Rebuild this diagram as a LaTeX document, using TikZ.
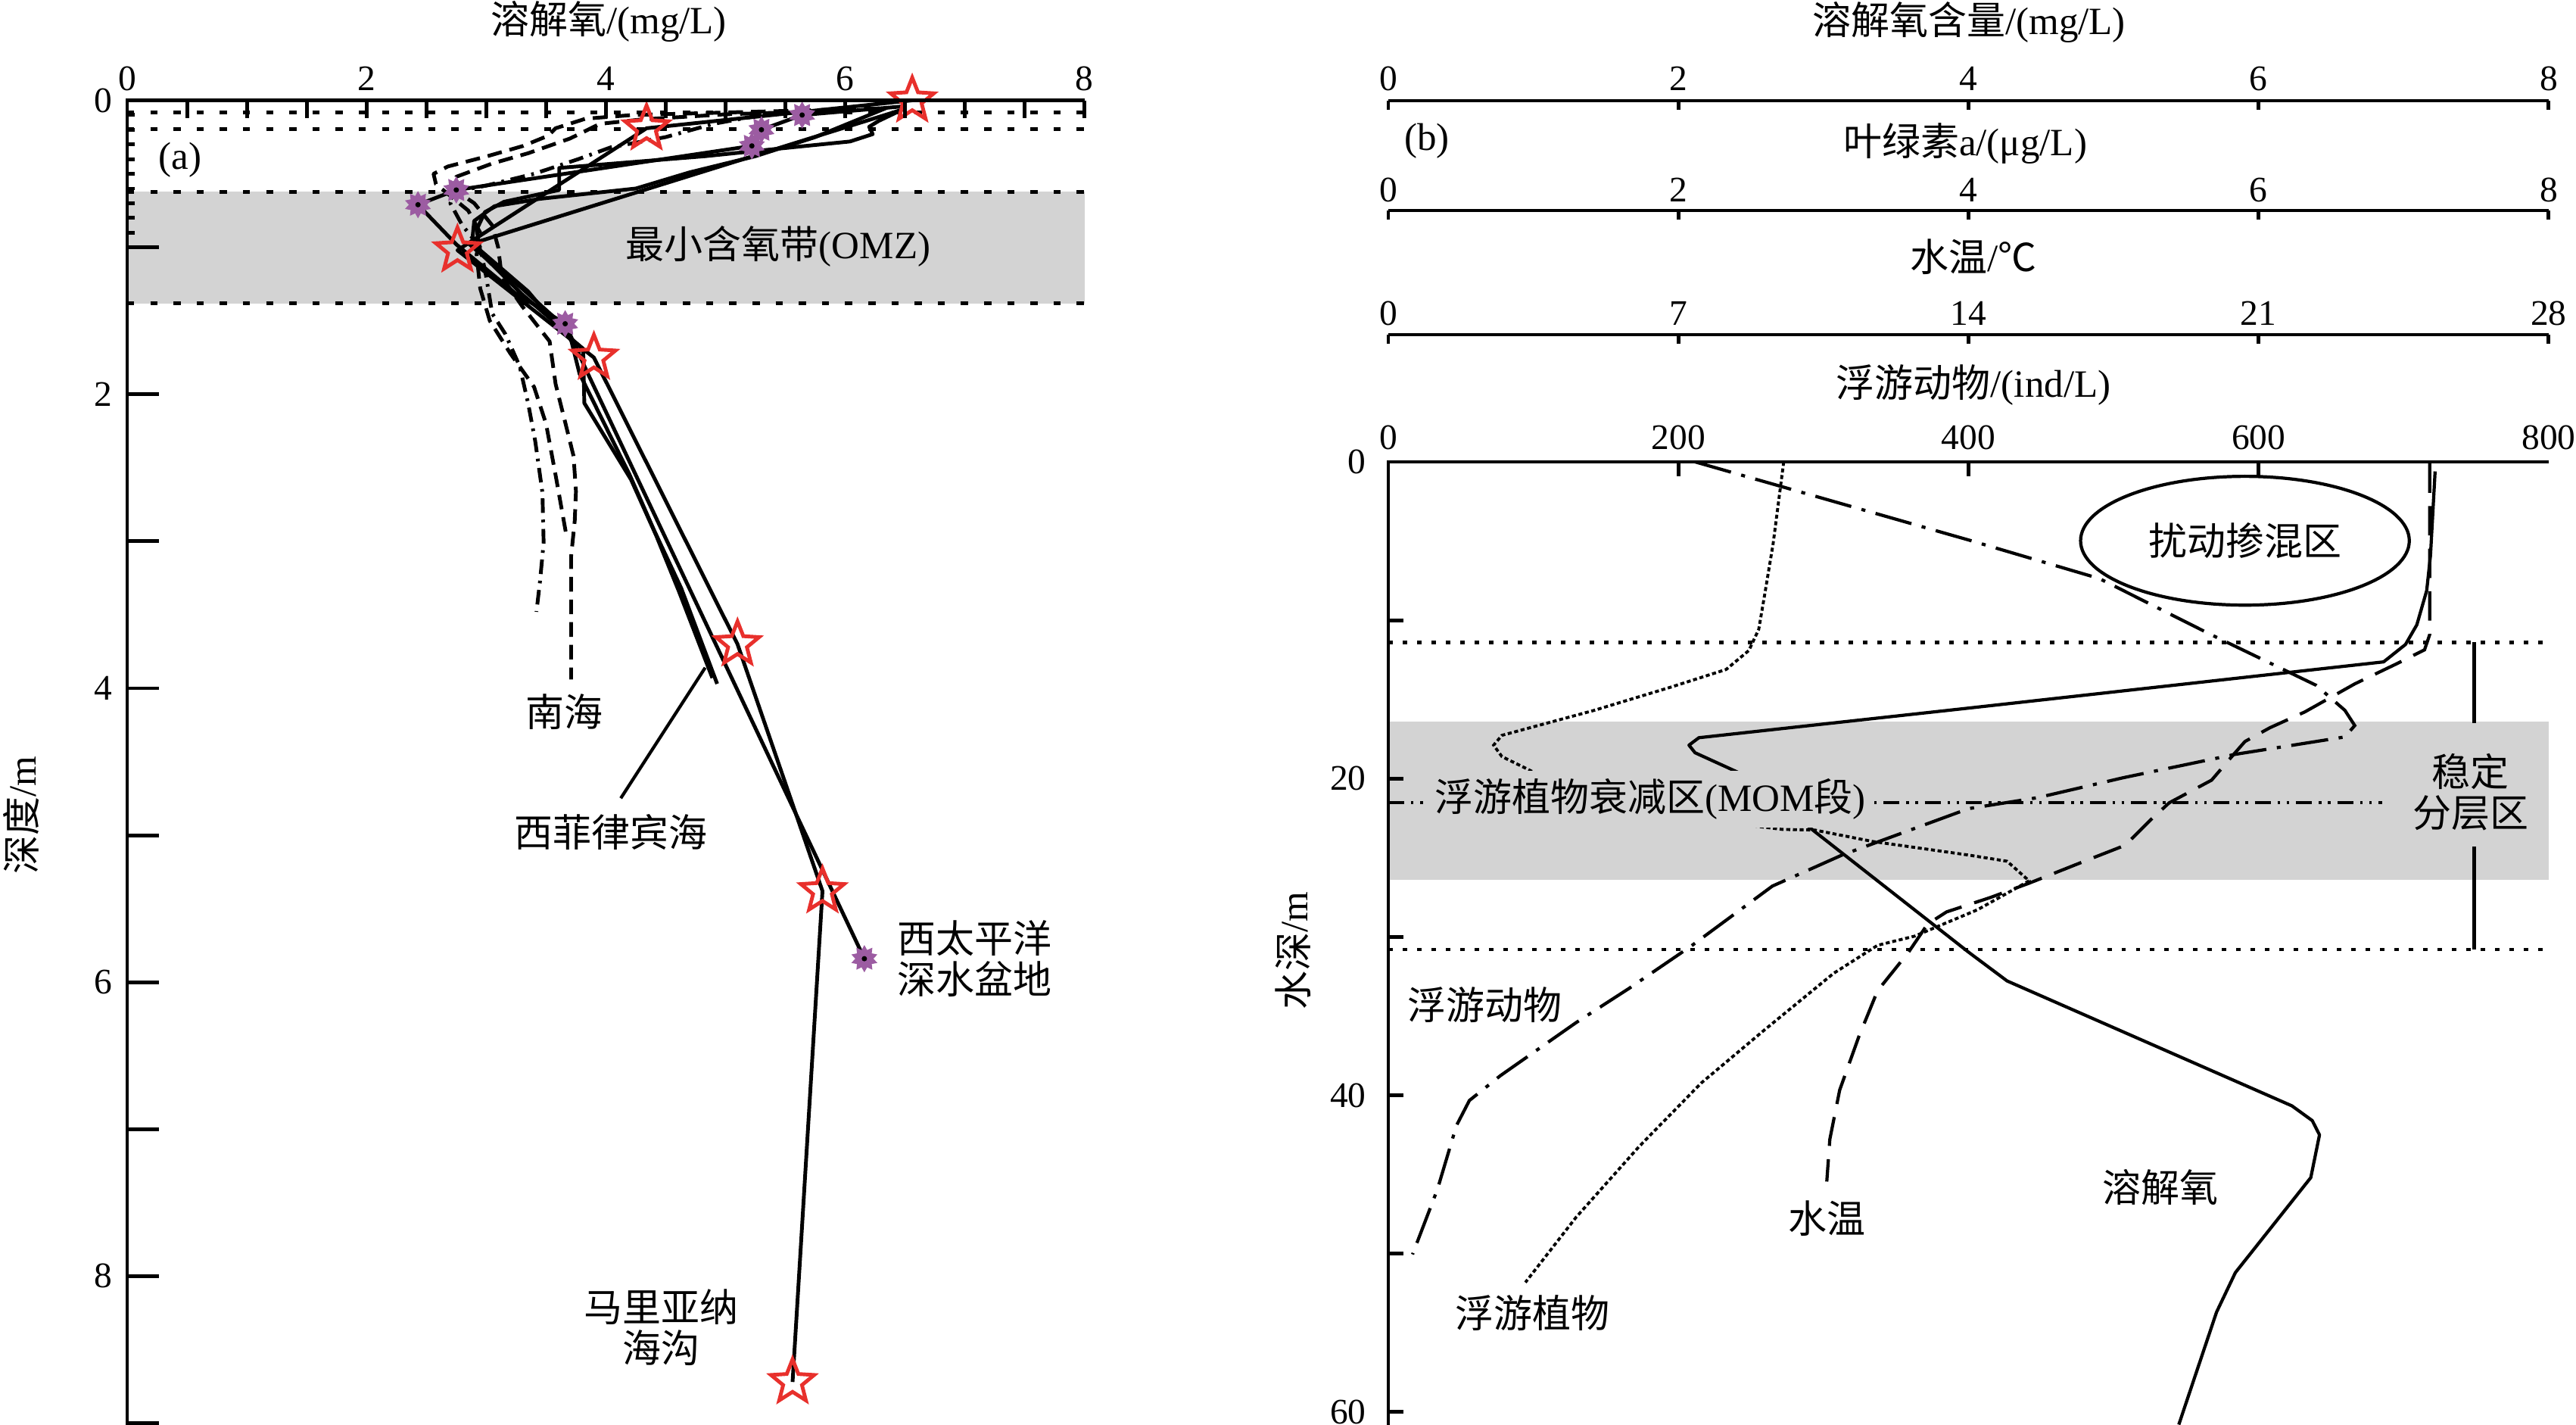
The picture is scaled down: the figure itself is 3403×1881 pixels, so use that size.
\documentclass[tikz,border=0pt]{standalone}
\usepackage{fontspec}
\setmainfont{Liberation Serif}
\newfontfamily\cjk{Noto Sans CJK SC}
\usetikzlibrary{shapes.geometric, positioning}

\definecolor{bandgrey}{RGB}{211,211,211}
\definecolor{starred}{RGB}{232,48,44}
\definecolor{markpurple}{RGB}{156,92,162}

\tikzstyle{axis} = [line width=1.4pt]
\tikzstyle{lbl} = [font=\fontsize{14.5pt}{15.4pt}\selectfont, inner sep=0pt, align=center]
\tikzstyle{zh} = [lbl, font=\fontsize{14.5pt}{15.4pt}\selectfont\cjk]
\tikzstyle{num} = [font=\fontsize{13.5pt}{15pt}\selectfont, inner sep=0pt]
\tikzstyle{zoneA} = [line width=1.4pt, dash pattern=on 2.7pt off 6pt]
\tikzstyle{zoneB} = [line width=1.3pt, dash pattern=on 1.7pt off 3.7pt]
\tikzstyle{prof} = [line width=1.4pt, line join=round]
\tikzstyle{profdash} = [prof, dash pattern=on 5.5pt off 3pt]
\tikzstyle{profdot} = [prof, dash pattern=on 5.5pt off 2.5pt on 1pt off 2.5pt]
\tikzstyle{rstar} = [star, star points=5, star point ratio=2.3, minimum size=0.6cm, inner sep=0pt, draw=starred, line width=1.4pt]
\tikzstyle{pstar} = [star, star points=10, star point ratio=1.5, minimum size=0.36cm, inner sep=0pt, fill=markpurple]
\tikzstyle{docurve} = [line width=1.2pt, line join=round]
\tikzstyle{tcurve} = [line width=1.2pt, dash pattern=on 11pt off 5pt]
\tikzstyle{zcurve} = [line width=1.2pt, dash pattern=on 14pt off 4pt on 1.5pt off 4pt]
\tikzstyle{pcurve} = [line width=1.1pt, dash pattern=on 1.5pt off 1pt]
\tikzstyle{momline} = [line width=1.2pt, dash pattern=on 6pt off 2.5pt on 1pt off 2.5pt on 1pt off 2.5pt]

\begin{document}
\begin{tikzpicture}[x=0.01cm, y=-0.01cm]
\useasboundingbox (0,0) rectangle (3403,1881);

% titles and axis names
\node[lbl] (ttlA) at (804,28) {{\cjk 溶解氧}/(mg/L)};
\node[lbl, rotate=90] (depA) at (28,1077) {{\cjk 深度}/m};
\node[lbl] (ttlB1) at (2601,29) {{\cjk 溶解氧含量}/(mg/L)};
\node[lbl] (tagB) at (1885,186) {(b)};
\node[lbl] (ttlB2) at (2596,190) {{\cjk 叶绿素}a/(μg/L)};
\node[lbl] (ttlB3) at (2607,339) {{\cjk 水温}/{\cjk ℃}};
\node[lbl] (ttlB4) at (2607,508) {{\cjk 浮游动物}/(ind/L)};
\node[lbl, rotate=90] (depB) at (1708,1256) {{\cjk 水深}/m};

% (a) dissolved oxygen profiles
\begin{scope}[shift={(168,132.5)}, x=1.58cm, y=-1.94cm]
\fill[bandgrey] (0,0.621) rectangle (8,1.381);
\foreach \d in {0.083,0.197,0.621,1.381}
  \draw[zoneA] (0,\d) -- (8,\d);

% South China Sea
\draw[profdash] (6.28,0.055) -- (5.13,0.08) -- (4.22,0.1) -- (3.83,0.125) -- (3.58,0.19) -- (3.52,0.24) -- (3.31,0.31) -- (3.01,0.38) -- (2.68,0.45) -- (2.56,0.5) -- (2.58,0.57) -- (2.7,0.65) -- (2.85,0.75) -- (2.95,0.9) -- (2.92,1.05) -- (2.95,1.28) -- (3.03,1.5) -- (3.2,1.72) -- (3.4,1.95) -- (3.5,2.2) -- (3.58,2.55) -- (3.67,2.96);
\draw[profdash] (6.0,0.07) -- (5.0,0.095) -- (4.3,0.13) -- (3.95,0.16) -- (3.7,0.26) -- (3.35,0.36) -- (3.05,0.43) -- (2.75,0.52) -- (2.72,0.6) -- (2.9,0.7) -- (3.05,0.85) -- (3.1,1.0) -- (3.13,1.2) -- (3.3,1.4) -- (3.53,1.64) -- (3.58,1.93) -- (3.66,2.19) -- (3.73,2.42) -- (3.75,2.66) -- (3.74,2.86) -- (3.71,3.1) -- (3.71,3.94);
\draw[profdot] (5.3,0.1) -- (4.9,0.16) -- (4.5,0.25) -- (4.04,0.32) -- (3.77,0.4) -- (3.4,0.5) -- (3.0,0.58) -- (2.75,0.62) -- (2.7,0.7) -- (2.8,0.85) -- (2.95,1.0) -- (3.0,1.2) -- (3.05,1.45) -- (3.16,1.59) -- (3.28,1.81) -- (3.35,2.06) -- (3.41,2.32) -- (3.47,2.67) -- (3.48,3.01) -- (3.45,3.27) -- (3.42,3.48);

% West Philippine Sea
\draw[prof] (6.46,0.07) -- (6.28,0.14) -- (6.2,0.18) -- (6.23,0.23) -- (6.04,0.28) -- (5.43,0.33) -- (4.83,0.38) -- (3.61,0.46) -- (3.61,0.61) -- (3.15,0.69) -- (2.99,0.76) -- (2.92,0.88) -- (2.95,1.02) -- (3.35,1.3) -- (3.62,1.56) -- (3.81,1.69) -- (3.82,2.06) -- (4.21,2.58) -- (4.42,2.96) -- (4.61,3.34) -- (4.89,3.93);
\draw[prof] (6.35,0.05) -- (5.75,0.25) -- (5.25,0.38) -- (4.7,0.49) -- (4.25,0.6) -- (3.45,0.67) -- (3.07,0.72) -- (2.9,0.82) -- (2.88,0.98) -- (3.3,1.32) -- (3.7,1.6) -- (3.78,1.86) -- (4.2,2.55) -- (4.4,2.92) -- (4.63,3.32) -- (4.93,3.97);
\draw[prof] (6.49,0.06) -- (2.86,0.98) -- (3.3,1.28) -- (3.6,1.5) -- (3.78,1.72);

% West Pacific deep basin
\draw[prof] (6.5,0.04) -- (5.64,0.1) -- (5.3,0.2) -- (5.22,0.31) -- (2.75,0.61) -- (2.43,0.71) -- (2.75,0.98) -- (3.24,1.31) -- (3.66,1.52) -- (3.85,1.86) -- (6.16,5.84);

% Mariana Trench
\draw[prof] (6.56,0) -- (4.34,0.19) -- (2.76,1.02) -- (3.9,1.75) -- (5.1,3.7) -- (5.81,5.38) -- (5.56,8.72);

\foreach \x/\d [count=\i] in {5.64/0.1, 5.3/0.2, 5.22/0.31, 2.75/0.61, 2.43/0.71, 3.66/1.52, 6.16/5.84} {
  \node[pstar] (wpac\i) at (\x,\d) {};
  \fill (wpac\i.center) circle (1pt);
}
\foreach \x/\d [count=\i] in {6.56/0, 4.34/0.19, 2.76/1.02, 3.9/1.75, 5.1/3.7, 5.81/5.38, 5.56/8.72}
  \node[rstar] (mar\i) at (\x,\d) {};

% axes
\draw[axis] (0,9.02) -- (0,0) -- (8,0);
\foreach \x in {0,0.5,...,8}
  \draw[axis] (\x,0) -- (\x,0.12);
\foreach \d in {1,...,9}
  \draw[axis] (0,\d) -- (0.266,\d);
\foreach \d in {0.1,0.2,...,0.95}
  \draw[axis] (0,\d) -- (0.065,\d);
\foreach \x in {0,2,4,6,8}
  \node[num] (topA\x) at (\x,-0.147) {\x};
\foreach \d in {0,2,4,6,8}
  \node[num, anchor=east] (depA\d) at (-0.12,\d) {\d};

% labels
\node[lbl] (tagA) at (0.443,0.405) {(a)};
\node[lbl] (omz) at (5.44,0.996) {{\cjk 最小含氧带}(OMZ)};
\node[zh] (lbscs) at (3.65,4.16) {南海};
\node[zh] (lbwps) at (4.04,4.98) {西菲律宾海};
\node[zh] (lbwpac) at (7.08,5.84) {西太平洋\\深水盆地};
\node[zh] (lbmar) at (4.46,8.35) {马里亚纳\\海沟};
\coordinate (wptip) at (4.83,3.86);
\draw[line width=1.2pt, shorten >=7pt] (wptip) -- (lbwps.north);
\end{scope}

% (b) top scales
\begin{scope}[shift={(1834,0)}, x=0.01915cm, y=-0.01cm]
\draw[axis] (0,133) -- (800,133);
\draw[axis] (0,278) -- (800,278);
\draw[axis] (0,442) -- (800,442);
\foreach \x in {0,200,...,800} {
  \draw[axis] (\x,133) -- (\x,145);
  \draw[axis] (\x,278) -- (\x,290);
  \draw[axis] (\x,442) -- (\x,454);
}
\foreach \v [count=\i from 0] in {0,2,4,6,8} {
  \node[num] (doax\i) at (\i*200,104) {\v};
  \node[num] (chax\i) at (\i*200,251) {\v};
}
\foreach \v [count=\i from 0] in {0,7,14,21,28}
  \node[num] (twax\i) at (\i*200,414) {\v};
\foreach \v [count=\i from 0] in {0,200,400,600,800}
  \node[num] (zpax\i) at (\i*200,578) {\v};
\end{scope}

% (b) water column
\begin{scope}[shift={(1834,610)}, x=0.01915cm, y=-0.209cm]
\fill[bandgrey] (0,16.4) rectangle (800,26.4);
\draw[zoneB] (0,11.4) -- (800,11.4);
\draw[zoneB] (0,30.8) -- (800,30.8);
\draw[momline] (0,21.5) -- (685,21.5);

% dissolved oxygen
\draw[docurve] (721.7,0.6) -- (718.5,5.93) -- (715.9,8.13) -- (709.1,10.29) -- (701.3,11.53) -- (686.2,12.63) -- (400,15.55) -- (214.1,17.42) -- (207.3,17.89) -- (211.5,18.37) -- (246,19.81) -- (294,23.35) -- (400,30.96) -- (426.6,32.78) -- (623,40.67) -- (637,41.6) -- (642,42.5) -- (636,45.2) -- (584,51.2) -- (571,53.7) -- (545,60.8);
% water temperature
\draw[tcurve] (718,0.1) -- (718,10.9) -- (714.4,11.87) -- (694.5,12.78) -- (666.3,14.02) -- (631.9,15.79) -- (607.8,16.79) -- (590.6,17.66) -- (583.8,18.37) -- (567.6,20.1) -- (538.4,21.53) -- (525.3,22.63) -- (508.1,24.21) -- (479.9,25.22) -- (442,26.6) -- (415.1,27.51) -- (384.9,28.42) -- (371.8,29.19) -- (358.7,30.96) -- (337.3,33.4) -- (324.3,36.32) -- (311.2,39.67) -- (304.4,42.78) -- (302.3,45.45);
% zooplankton
\draw[zcurve] (211.5,0) -- (400,4.93) -- (490.3,7.37) -- (565,10.81) -- (639.7,14.11) -- (659.5,15.69) -- (666.3,16.65) -- (659.5,17.37) -- (583.8,18.47) -- (506.5,19.95) -- (448,21.2) -- (400,21.9) -- (312.8,24.83) -- (264.8,26.79) -- (208.9,30.57) -- (166,33.25) -- (129.5,35.41) -- (77.3,38.76) -- (55.9,40.33) -- (47,41.91) -- (33.9,45.93) -- (16.7,50.05);
% phytoplankton
\draw[pcurve] (272.6,0) -- (265.3,5.17) -- (259.5,8.37) -- (255.4,10.57) -- (248.6,11.91) -- (232.9,13.11) -- (195.3,14.21) -- (142,15.69) -- (78.3,17.27) -- (72.6,17.89) -- (78.3,18.61) -- (105,19.81) -- (191,22.3) -- (271.5,23.21) -- (294,23.25) -- (333.7,23.97) -- (400,24.83) -- (426.6,25.22) -- (441.8,26.46) -- (406.3,28.28) -- (362.9,29.95) -- (337.3,30.53) -- (307,32.3) -- (259,35.9) -- (215.7,39.23) -- (172.8,43.25) -- (129.5,47.7) -- (94.5,51.82);

\node[lbl, fill=bandgrey, inner sep=3pt] (mom) at (180.7,21.29) {{\cjk 浮游植物衰减区}(MOM{\cjk 段})};
\node[zh, ellipse, draw, line width=1.2pt, minimum width=4.34cm, minimum height=1.7cm] (mix) at (590.6,4.98) {扰动掺混区};
\node[zh] (strat) at (746.2,20.86) {稳定\\分层区};
\draw[axis] (748.8,11.4) -- (748.8,16.5);
\draw[axis] (748.8,24.3) -- (748.8,30.8);

\node[zh] (lbzoo) at (66.3,34.3) {浮游动物};
\node[zh] (lbphy) at (99.2,53.73) {浮游植物};
\node[zh] (lbtmp) at (302.3,47.8) {水温};
\node[zh] (lbdo) at (532.1,45.79) {溶解氧};

% frame
\draw[axis] (0,60.9) -- (0,0) -- (800,0);
\foreach \x in {200,400,600}
  \draw[axis] (\x,0) -- (\x,0.9);
\foreach \d in {10,20,...,60}
  \draw[axis] (0,\d) -- (10.4,\d);
\foreach \d in {0,20,40,60}
  \node[num, anchor=east] (depB\d) at (-15,\d) {\d};
\end{scope}
\end{tikzpicture}
\end{document}
